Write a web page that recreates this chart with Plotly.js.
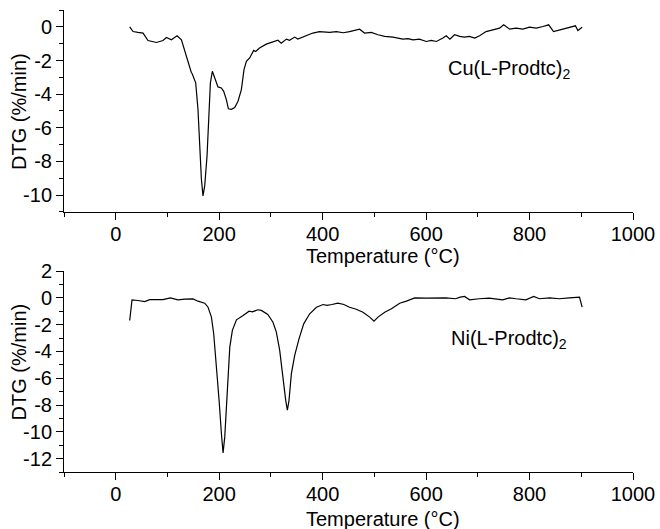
<!DOCTYPE html>
<html>
<head>
<meta charset="utf-8">
<script src="https://cdn.plot.ly/plotly-3.0.1.min.js"></script>
<style>html,body{margin:0;padding:0;background:#fff;}#chart{width:660px;height:529px;}</style>
</head>
<body>
<div id="chart"></div>
<script>
// Cu(L-Prodtc)2 DTG curve
const cuTemp = [27, 33.5, 43, 52.8, 62.4, 72, 78.6, 91.4, 98, 107.6, 118.5, 127, 133, 141.7, 146, 148, 154.6, 159, 162.3, 165.6, 168.7, 172, 176.5, 180.3, 183, 186.8, 191.3, 197.7, 204.2, 208.7, 213.9, 217.8, 223.6, 230, 236.4, 242.9, 248, 252.6, 259, 266.7, 270.5, 278, 291, 304, 313.6, 320, 330, 336, 346, 352, 368.5, 381, 394, 403, 413.5, 426.5, 440, 452, 461, 471.5, 481, 494, 507, 520, 536, 545, 555, 565, 574.7, 587, 600.4, 610, 620, 632.5, 639, 646, 655, 665, 674, 684, 694, 703.4, 716, 729, 742, 750, 761.5, 774, 787, 800, 813, 826, 837, 846.4, 858, 871, 883.6, 888.7, 893.4, 901.7];
const cuDTG = [0, -0.28, -0.33, -0.37, -0.81, -0.87, -0.93, -0.81, -0.63, -0.77, -0.53, -0.77, -1.36, -2.35, -2.7, -2.8, -3.33, -4.9, -6.9, -9.05, -10.04, -9.45, -7.67, -4.9, -3.33, -2.64, -3.04, -3.57, -3.63, -3.83, -4.32, -4.87, -4.9, -4.8, -4.42, -3.73, -2.54, -2.05, -1.85, -1.4, -1.46, -1.26, -1.03, -0.87, -0.8, -0.97, -0.73, -0.8, -0.61, -0.73, -0.53, -0.37, -0.28, -0.3, -0.33, -0.28, -0.35, -0.28, -0.22, -0.14, -0.37, -0.33, -0.47, -0.57, -0.61, -0.68, -0.73, -0.7, -0.77, -0.73, -0.87, -0.8, -0.87, -0.67, -0.53, -0.73, -0.47, -0.57, -0.61, -0.57, -0.67, -0.53, -0.28, -0.18, -0.08, 0.12, -0.14, -0.08, -0.14, -0.02, -0.08, 0.02, 0.12, -0.28, -0.18, -0.08, 0.02, 0.06, -0.22, -0.02];

// Ni(L-Prodtc)2 DTG curve
const niTemp = [27, 31.5, 43, 56, 65.7, 81.6, 91.3, 105.5, 120.4, 133.3, 149.4, 159, 172, 178.5, 185, 189.4, 194.6, 199.8, 204.3, 207.5, 210.8, 215.3, 220.5, 225.5, 233.4, 246.3, 257.9, 264, 275, 281.5, 294, 304, 310.5, 317, 323.4, 328.6, 331.8, 335, 339.6, 346, 354.3, 363.4, 375, 388, 400.8, 408.5, 418, 429.6, 441, 452, 465, 478, 491, 499.3, 507, 520, 533, 549, 562, 578, 600, 620, 638, 657, 666, 674.4, 684, 703, 722, 748, 761, 774, 793, 808, 819, 839, 858, 877, 896.6, 901.7];
const niDTG = [-1.69, -0.15, -0.2, -0.28, -0.13, -0.15, -0.13, 0, -0.15, -0.1, -0.08, -0.25, -0.4, -0.7, -1.44, -2.68, -4.91, -7.65, -10.13, -11.57, -10.38, -6.9, -3.68, -2.43, -1.64, -1.32, -1.0, -1.05, -0.89, -0.94, -1.24, -1.82, -2.56, -3.92, -6.16, -7.65, -8.39, -7.65, -5.66, -4.3, -3.06, -1.94, -1.19, -0.7, -0.5, -0.56, -0.5, -0.4, -0.5, -0.7, -0.85, -1.07, -1.44, -1.74, -1.44, -1.07, -0.82, -0.4, -0.25, 0, -0.02, 0, 0, -0.07, 0.05, 0.1, -0.15, -0.07, -0.02, -0.15, 0, -0.07, -0.15, 0.1, -0.07, 0, -0.07, 0, 0.05, -0.7];

const xTickVals = [0, 200, 400, 600, 800, 1000];
const xTickText = ["0", "200", "400", "600", "800", "1000"];
const cuYTicks = [0, -2, -4, -6, -8, -10];
const cuYText = ["0", "-2", "-4", "-6", "-8", "-10"];
const niYTicks = [2, 0, -2, -4, -6, -8, -10, -12];
const niYText = ["2", "0", "-2", "-4", "-6", "-8", "-10", "-12"];
const labels = ["Cu(L-Prodtc)<sub>2</sub>", "Ni(L-Prodtc)<sub>2</sub>"];
const xTitle = "Temperature (°C)";
const yTitle = "DTG (%/min)";

const FONT = "Liberation Sans, Arial, Helvetica, sans-serif";
const TXT = {family: FONT, size: 20, color: "#000"};
const lineStyle = {color: "#000", width: 1.2};

const traces = [
  {x: cuTemp, y: cuDTG, type: "scatter", mode: "lines", line: lineStyle, xaxis: "x", yaxis: "y", hoverinfo: "skip"},
  {x: niTemp, y: niDTG, type: "scatter", mode: "lines", line: lineStyle, xaxis: "x2", yaxis: "y2", hoverinfo: "skip"}
];

function xAxis(anchor) {
  return {
    anchor: anchor, range: [-100, 1000], tickmode: "array", tickvals: xTickVals, ticktext: xTickText,
    ticks: "outside", ticklen: 7, tickwidth: 1, tickcolor: "#000", ticklabelstandoff: -3,
    showline: true, linecolor: "#000", linewidth: 1, showgrid: false, zeroline: false,
    minor: {tickmode: "linear", tick0: -100, dtick: 100, ticks: "outside", ticklen: 4, tickwidth: 1, tickcolor: "#000", showgrid: false},
    tickfont: TXT
  };
}
function yAxis(domain, range, ticks, text, anchor) {
  return {
    domain: domain, anchor: anchor, range: range, tickmode: "array", tickvals: ticks, ticktext: text,
    ticks: "outside", ticklen: 7, tickwidth: 1, tickcolor: "#000",
    showline: true, linecolor: "#000", linewidth: 1, showgrid: false, zeroline: false,
    minor: {tickmode: "linear", tick0: 1, dtick: 1, ticks: "outside", ticklen: 4, tickwidth: 1, tickcolor: "#000", showgrid: false},
    tickfont: TXT
  };
}

const layout = {
  width: 660, height: 529,
  margin: {l: 64, r: 27, t: 10, b: 57},
  paper_bgcolor: "#fff", plot_bgcolor: "#fff",
  showlegend: false,
  font: TXT,
  xaxis: xAxis("y"),
  yaxis: yAxis([0.5628, 1], [-11, 1], cuYTicks, cuYText, "x"),
  xaxis2: xAxis("y2"),
  yaxis2: yAxis([0, 0.435], [-13, 2], niYTicks, niYText, "x2"),
  annotations: [
    {xref: "x", yref: "y", x: 760, y: -2.55, text: labels[0], showarrow: false, xanchor: "center", yanchor: "middle", font: TXT},
    {xref: "x2", yref: "y2", x: 761, y: -3.1, text: labels[1], showarrow: false, xanchor: "center", yanchor: "middle", font: TXT},
    {xref: "paper", yref: "paper", x: 0.5615, y: 0.4675, text: xTitle, showarrow: false, xanchor: "center", yanchor: "middle", font: TXT},
    {xref: "paper", yref: "paper", x: 0.5615, y: -0.1028, text: xTitle, showarrow: false, xanchor: "center", yanchor: "middle", font: TXT},
    {xref: "paper", yref: "paper", x: -0.0791, y: 0.7814, text: yTitle, textangle: -90, showarrow: false, xanchor: "center", yanchor: "middle", font: TXT},
    {xref: "paper", yref: "paper", x: -0.0791, y: 0.2392, text: yTitle, textangle: -90, showarrow: false, xanchor: "center", yanchor: "middle", font: TXT}
  ]
};

Plotly.newPlot("chart", traces, layout, {staticPlot: true, displayModeBar: false});
</script>
</body>
</html>
